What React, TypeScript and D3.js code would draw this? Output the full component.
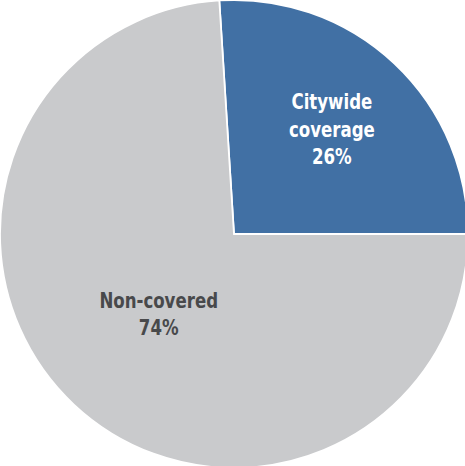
import React from "react";
import * as d3 from "d3";

const categories = ["Citywide coverage", "Non-covered"];
const values = [26, 74];
const labelLines = [["Citywide", "coverage", "26%"], ["Non-covered", "74%"]];

const W = 465;
const H = 466;
const CX = 234;
const CY = 234;
const R = 234;
const colors = ["#4170a4", "#c9cacc"];
const textColors = ["#ffffff", "#48494b"];
const labelRadius = [143, 110];
const lineGap = [27.5, 27.5];
const fontSizes = [20.5, 20.5];
const xScaleText = 0.9;
const startAngle = (-3.6 * Math.PI) / 180;

export default function App() {
  const pie = d3
    .pie<number>()
    .sort(null)
    .startAngle(startAngle)
    .endAngle(startAngle + 2 * Math.PI);
  const arcs = pie(values);
  const arc = d3.arc<d3.PieArcDatum<number>>().innerRadius(0).outerRadius(R);

  return (
    <div style={{ position: "absolute", left: 0, top: 0 }}>
      <svg width={W} height={H} style={{ display: "block", background: "#fff" }}>
        <g transform={`translate(${CX},${CY})`}>
          {arcs.map((a, i) => (
            <path
              key={categories[i]}
              d={arc(a) || ""}
              fill={colors[i]}
              stroke="#ffffff"
              strokeWidth={1.8}
            />
          ))}
          {arcs.map((a, i) => {
            const la = d3.arc<d3.PieArcDatum<number>>().innerRadius(0).outerRadius(labelRadius[i] * 2);
            const [lx, ly] = la.centroid(a);
            const lines = labelLines[i];
            const y0 = -((lines.length - 1) * lineGap[i]) / 2;
            return (
              <g key={"t" + i} transform={`translate(${lx},${ly}) scale(${xScaleText},1)`}>
                <text
                  textAnchor="middle"
                  fill={textColors[i]}
                  fontFamily="'DejaVu Sans Condensed', 'DejaVu Sans', sans-serif"
                  fontStretch="condensed"
                  fontWeight="bold"
                  fontSize={fontSizes[i]}
                >
                  {lines.map((l, j) => (
                    <tspan key={j} x={0} y={y0 + j * lineGap[i]} dy="0.35em">
                      {l}
                    </tspan>
                  ))}
                </text>
              </g>
            );
          })}
        </g>
      </svg>
    </div>
  );
}
